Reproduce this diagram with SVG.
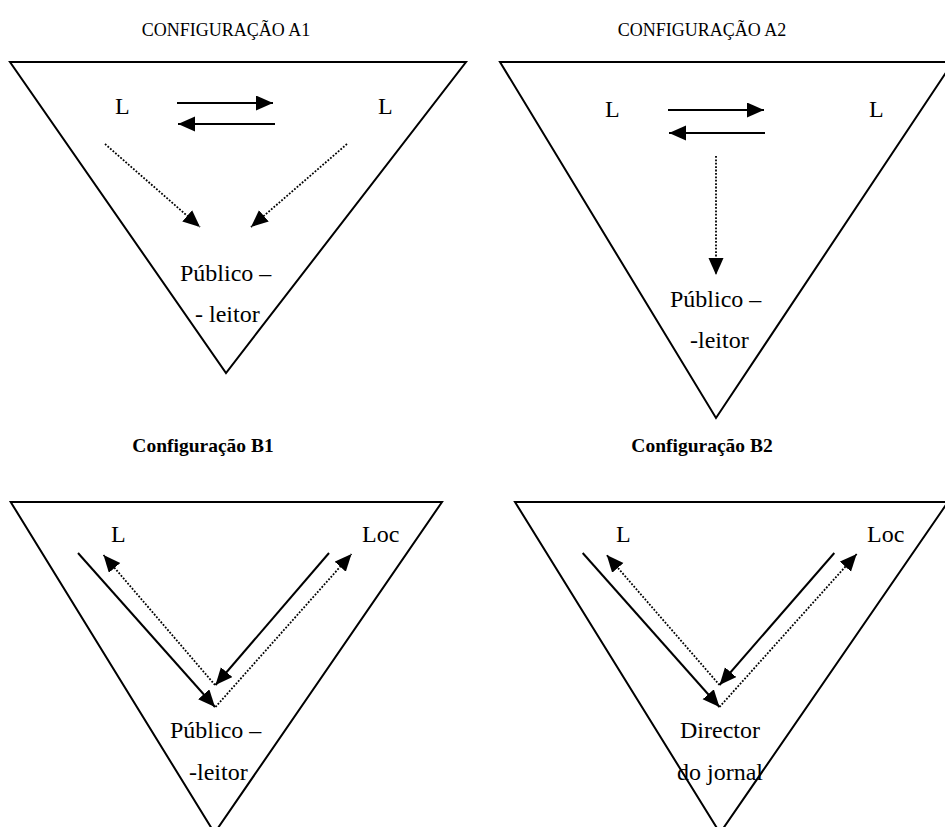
<svg xmlns="http://www.w3.org/2000/svg" width="945" height="827" viewBox="0 0 945 827">
<defs>
<style>
.tri{fill:none;stroke:#000;stroke-width:2;stroke-linejoin:miter}
.lbl{font-family:"Liberation Serif","Times New Roman",serif;font-size:24px;fill:#000}
.ttl{font-family:"Liberation Serif","Times New Roman",serif;font-size:18px;fill:#000;text-anchor:middle}
.bold{font-weight:bold;font-size:19.5px}
.solid{fill:none;stroke:#000;stroke-width:2;marker-end:url(#ah)}
.dot{fill:none;stroke:#000;stroke-width:1.8;stroke-dasharray:1.8 1.6;marker-end:url(#ah)}
</style>
<marker id="ah" markerUnits="userSpaceOnUse" markerWidth="18" markerHeight="16" refX="17" refY="7.5" orient="auto">
<path d="M0,0 L17,7.5 L0,15 z" fill="#000" stroke="none"/>
</marker>
</defs>
<rect width="945" height="827" fill="#fff"/>

<g id="title-a1"><text class="ttl" x="226" y="36">CONFIGURAÇÃO A1</text></g>
<g id="title-a2"><text class="ttl" x="702" y="36">CONFIGURAÇÃO A2</text></g>
<g id="title-b1"><text class="ttl bold" x="203" y="452">Configuração B1</text></g>
<g id="title-b2"><text class="ttl bold" x="702" y="452">Configuração B2</text></g>

<g id="triangle-a1"><polygon class="tri" points="10,62 466,62 226,373"/></g>
<g id="triangle-a2"><polygon class="tri" points="500,62 953,62 716,418"/></g>
<g id="triangle-b1"><polygon class="tri" points="10.7,502 442,502 214.5,833"/></g>
<g id="triangle-b2"><polygon class="tri" points="515,502 948,502 720,833"/></g>

<g id="a1-L-left"><text class="lbl" x="115" y="114">L</text></g>
<g id="a1-L-right"><text class="lbl" x="378" y="114">L</text></g>
<g id="a1-publico"><text class="lbl" x="180" y="281">Público –</text><text class="lbl" x="195" y="322">- leitor</text></g>

<g id="a2-L-left"><text class="lbl" x="605" y="117">L</text></g>
<g id="a2-L-right"><text class="lbl" x="869" y="117">L</text></g>
<g id="a2-publico"><text class="lbl" x="670" y="307">Público –</text><text class="lbl" x="690" y="348">-leitor</text></g>

<g id="b1-L"><text class="lbl" x="111" y="542">L</text></g>
<g id="b1-Loc"><text class="lbl" x="362" y="542">Loc</text></g>
<g id="b1-publico"><text class="lbl" x="170" y="738">Público –</text><text class="lbl" x="189" y="780">-leitor</text></g>

<g id="b2-L"><text class="lbl" x="616" y="542">L</text></g>
<g id="b2-Loc"><text class="lbl" x="867" y="542">Loc</text></g>
<g id="b2-director"><text class="lbl" x="680" y="738">Director</text><text class="lbl" x="677" y="780">do jornal</text></g>

<g id="connectors">
<line class="solid" x1="177" y1="103" x2="273" y2="103"/>
<line class="solid" x1="275" y1="124" x2="178" y2="124"/>
<line class="dot" x1="105" y1="144" x2="200" y2="227"/>
<line class="dot" x1="347" y1="144" x2="251" y2="227"/>

<line class="solid" x1="668" y1="110" x2="764" y2="110"/>
<line class="solid" x1="765" y1="133" x2="669" y2="133"/>
<line class="dot" x1="716" y1="156" x2="716" y2="275"/>

<line class="solid" x1="78" y1="553" x2="215" y2="707"/>
<line class="dot" x1="215" y1="685" x2="103.5" y2="555"/>
<line class="solid" x1="329" y1="553" x2="215.5" y2="685"/>
<line class="dot" x1="215.5" y1="707" x2="351.5" y2="554"/>

<line class="solid" x1="582.7" y1="553" x2="719.5" y2="707"/>
<line class="dot" x1="719.5" y1="685" x2="606.7" y2="555"/>
<line class="solid" x1="834.3" y1="553" x2="719.5" y2="685"/>
<line class="dot" x1="719.5" y1="707" x2="856.7" y2="554"/>
</g>
</svg>
